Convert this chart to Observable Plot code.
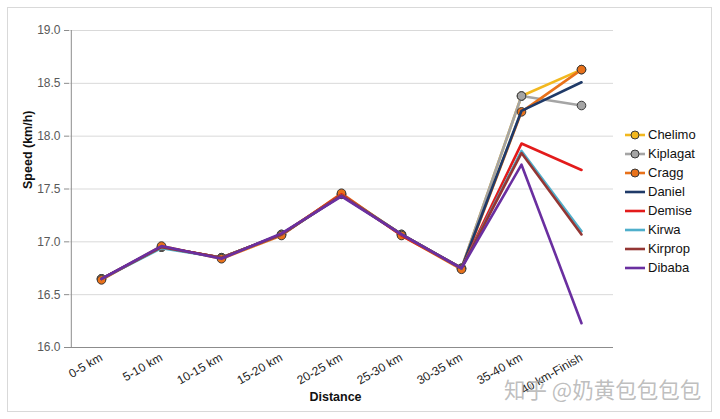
<!DOCTYPE html>
<html><head><meta charset="utf-8">
<script src="https://cdn.jsdelivr.net/npm/d3@7"></script>
<script src="https://cdn.jsdelivr.net/npm/@observablehq/plot@0.6"></script>
<style>
body{margin:0;background:#fff;font-family:"Liberation Sans",Arial,sans-serif;}
#wrap{position:relative;width:720px;height:419px;overflow:hidden;}
#frame{position:absolute;left:7px;top:7px;width:705px;height:405px;border:1px solid #d9d9d9;box-sizing:border-box;pointer-events:none;}
#legend{position:absolute;left:624px;top:125px;font-size:13px;color:#111;}
#legend .row{height:19px;display:flex;align-items:center;}
#legend svg{margin-right:2px;}
#wm{position:absolute;left:504px;top:373px;font-family:"Noto Sans CJK SC",sans-serif;font-size:21.5px;color:rgba(170,170,170,0.75);white-space:nowrap;}
</style></head>
<body><div id="wrap"><div id="frame"></div><div id="chart"></div><div id="legend"></div><div id="wm">知乎 @奶黄包包包包</div></div>
<script>
const segments = ["0-5 km","5-10 km","10-15 km","15-20 km","20-25 km","25-30 km","30-35 km","35-40 km","40 km-Finish"];
const runners = ["Chelimo","Kiplagat","Cragg","Daniel","Demise","Kirwa","Kirprop","Dibaba"];
const chelimo  = [16.65,16.95,16.85,17.07,17.45,17.07,16.75,18.38,18.63];
const kiplagat = [16.65,16.95,16.85,17.07,17.45,17.07,16.75,18.38,18.29];
const cragg    = [16.64,16.96,16.84,17.06,17.46,17.06,16.74,18.23,18.63];
const daniel   = [16.65,16.95,16.85,17.07,17.44,17.07,16.75,18.24,18.51];
const demise   = [16.65,16.95,16.85,17.07,17.45,17.06,16.75,17.93,17.68];
const kirwa    = [16.65,16.94,16.85,17.07,17.44,17.07,16.75,17.86,17.10];
const kirprop  = [16.65,16.95,16.85,17.07,17.44,17.07,16.75,17.84,17.07];
const dibaba   = [16.65,16.96,16.84,17.08,17.43,17.07,16.75,17.73,16.23];
const yTicks = [16.0,16.5,17.0,17.5,18.0,18.5,19.0];
const colors = ["#F2B81F","#A5A5A5","#E8711A","#1F3A68","#E31B1B","#4FAFCB","#943634","#6A2FA0"];
const hasMarker = [true,true,true,false,false,false,false,false];
const seriesValues = [chelimo,kiplagat,cragg,daniel,demise,kirwa,kirprop,dibaba];

const table = runners.map((r,i)=>segments.map((s,j)=>({runner:r,segment:s,speed:seriesValues[i][j]})));

const marks = [
  Plot.gridY(yTicks.slice(1),{stroke:"#d9d9d9",strokeOpacity:1,strokeWidth:1}),
  Plot.axisY({ticks:yTicks,tickFormat:d=>d.toFixed(1),tickSize:5,tickPadding:4,stroke:"#8c8c8c",fill:"#595959",fontSize:12,label:null}),
  Plot.axisX({tickSize:0,tickRotate:-30,tickPadding:9,fill:"#222",fontSize:12,label:null}),
  Plot.ruleY([16],{stroke:"#8c8c8c",strokeWidth:1}),
];
runners.forEach((r,i)=>{
  marks.push(Plot.line(table[i],{x:"segment",y:"speed",stroke:colors[i],strokeWidth:2.6,strokeLinejoin:"round"}));
  if(hasMarker[i]) marks.push(Plot.dot(table[i],{x:"segment",y:"speed",r:4.3,fill:colors[i],stroke:"#3a3a3a",strokeWidth:1}));
});
marks.push(Plot.ruleX([segments[0]],{y1:16,y2:19,stroke:"#8c8c8c",dx:-30.2}));
marks.push(Plot.text(["Speed (km/h)"],{frameAnchor:"left",dx:-42,rotate:-90,fontWeight:"bold",fontSize:12.5,fill:"#111"}));
marks.push(Plot.text(["Distance"],{frameAnchor:"bottom",dy:53,dx:-6,fontWeight:"bold",fontSize:12.5,fill:"#111"}));

const chart = Plot.plot({
  width:720,height:419,
  marginLeft:69,marginRight:107,marginTop:30,marginBottom:72,
  style:{fontFamily:"'Liberation Sans',Arial,sans-serif",background:"transparent",overflow:"visible"},
  x:{type:"point",domain:segments,padding:0.5},
  y:{domain:[16,19]},
  marks
});
document.getElementById("chart").appendChild(chart);

const lg = d3.select("#legend");
runners.forEach((r,i)=>{
  const row = lg.append("div").attr("class","row");
  const s = row.append("svg").attr("width",22).attr("height",12);
  s.append("line").attr("x1",1).attr("x2",21).attr("y1",6).attr("y2",6).attr("stroke",colors[i]).attr("stroke-width",2.6);
  if(hasMarker[i]) s.append("circle").attr("cx",11).attr("cy",6).attr("r",4).attr("fill",colors[i]).attr("stroke","#3a3a3a");
  row.append("span").text(r);
});
</script></body></html>
